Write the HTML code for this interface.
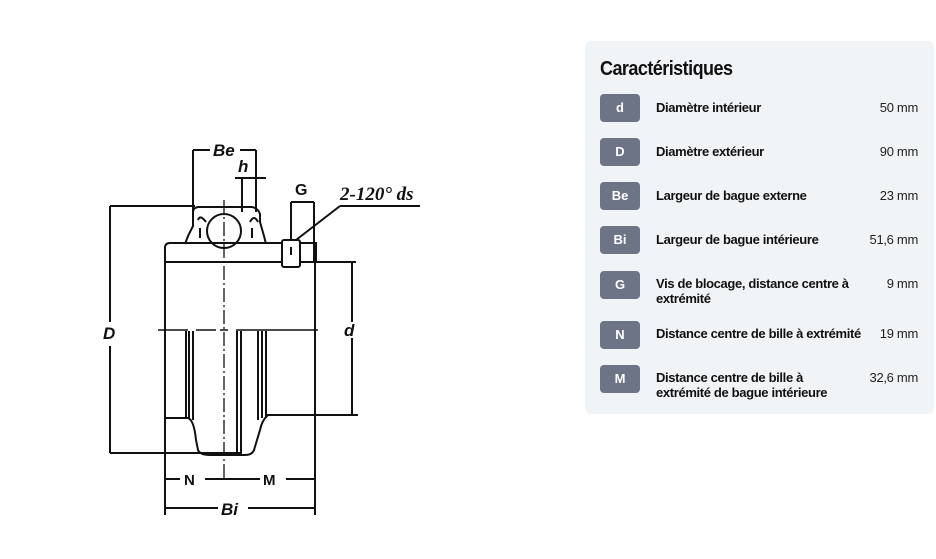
<!DOCTYPE html>
<html><head><meta charset="utf-8"><style>
*{margin:0;padding:0;box-sizing:border-box}
body{width:936px;height:559px;background:#fff;position:relative;overflow:hidden;font-family:"Liberation Sans",sans-serif}
#panel{position:absolute;left:585px;top:41px;width:349px;height:373px;background:#f1f4f6;border-radius:6px}
.t{position:absolute;left:15px;top:17px;font-size:20px;font-weight:bold;color:#111;letter-spacing:-0.6px;transform:scaleX(0.9);transform-origin:left}
.b{position:absolute;left:15px;width:40px;height:28px;background:#6c7486;border-radius:4px;color:#fff;font-size:13px;font-weight:bold;text-align:center;line-height:28px}
.l{position:absolute;left:71px;font-size:13px;font-weight:bold;color:#111;line-height:15px;letter-spacing:-0.35px}
.v{position:absolute;right:16px;font-size:13px;color:#222;letter-spacing:-0.3px}
</style></head><body>
<svg width="936" height="559" style="position:absolute;left:0;top:0" fill="none" stroke="#111" stroke-width="2" font-family="Liberation Sans,sans-serif">
<path d="M193 150H210M240 150H256M193 150V212M256 150V212"/>
<text x="213" y="156" font-size="17" font-weight="bold" font-style="italic" fill="#111" stroke="none">Be</text>
<text x="238" y="172" font-size="17" font-weight="bold" font-style="italic" fill="#111" stroke="none">h</text>
<path d="M235 178H266M242 178V212"/>
<text x="295" y="195" font-size="16" font-weight="bold" fill="#111" stroke="none">G</text>
<path d="M291 202H314M291 202V240M314 202V262"/>
<text x="340" y="200" font-size="19" font-weight="bold" font-style="italic" fill="#111" stroke="none" font-family="Liberation Serif,serif">2-120° ds</text>
<path d="M340 206H420M340 206L296 240"/>
<path d="M110 206H195M110 206V322M110 346V453M110 453H240"/>
<text x="103" y="339" font-size="17" font-weight="bold" font-style="italic" fill="#111" stroke="none">D</text>
<path d="M193 212Q193 208 198 207H252Q258 208 260 214V222L264 236 266 244M193 212V226L188 236 185 244"/>
<path d="M198 220Q200 214 206 222M250 222Q254 214 258 222M200 228V238M252 228V238"/>
<circle cx="224" cy="231" r="17" fill="#fff"/>
<path d="M170 243H282M300 243H316V262H300M282 262H165V248Q165 243 170 243"/>
<rect x="282" y="240" width="18" height="27" rx="2"/>
<path d="M291 247V255"/>
<path d="M165 262V515M315 262V515"/>
<path d="M158 330H188M196 330H216M220 330H228M236 330H318" stroke-width="1.5"/>
<path d="M224 200V480" stroke-width="1.3" stroke-dasharray="14 3 2 3"/>
<path d="M316 262H356M352 262V322M352 338V415M265 415H358"/>
<text x="344" y="336" font-size="17" font-weight="bold" font-style="italic" fill="#111" stroke="none">d</text>
<path d="M186 331V418M189 331V418M193 331V420M237 331V455M241 331V455M258 331V420M262 331V418M266 331V418"/>
<path d="M165 418H188Q194 420 196 440L198 450Q200 455 210 455H245Q252 455 254 450L260 430Q262 420 268 415"/>
<path d="M165 472V515M165 479H180M205 479H260M286 479H315"/>
<text x="184" y="485" font-size="15" font-weight="bold" fill="#111" stroke="none">N</text>
<text x="263" y="485" font-size="15" font-weight="bold" fill="#111" stroke="none">M</text>
<path d="M165 508H218M248 508H315"/>
<text x="221" y="515" font-size="17" font-weight="bold" font-style="italic" fill="#111" stroke="none">Bi</text>
</svg>
<div id="panel">
<div class="t">Caractéristiques</div>
<div class="b" style="top:53px">d</div><div class="l" style="top:59px">Diamètre intérieur</div><div class="v" style="top:59px">50 mm</div>
<div class="b" style="top:97px">D</div><div class="l" style="top:103px">Diamètre extérieur</div><div class="v" style="top:103px">90 mm</div>
<div class="b" style="top:141px">Be</div><div class="l" style="top:147px">Largeur de bague externe</div><div class="v" style="top:147px">23 mm</div>
<div class="b" style="top:185px">Bi</div><div class="l" style="top:191px">Largeur de bague intérieure</div><div class="v" style="top:191px">51,6 mm</div>
<div class="b" style="top:230px">G</div><div class="l" style="top:235px">Vis de blocage, distance centre à<br>extrémité</div><div class="v" style="top:235px">9 mm</div>
<div class="b" style="top:280px">N</div><div class="l" style="top:285px">Distance centre de bille à extrémité</div><div class="v" style="top:285px">19 mm</div>
<div class="b" style="top:324px">M</div><div class="l" style="top:329px">Distance centre de bille à<br>extrémité de bague intérieure</div><div class="v" style="top:329px">32,6 mm</div>
</div>
</body></html>
